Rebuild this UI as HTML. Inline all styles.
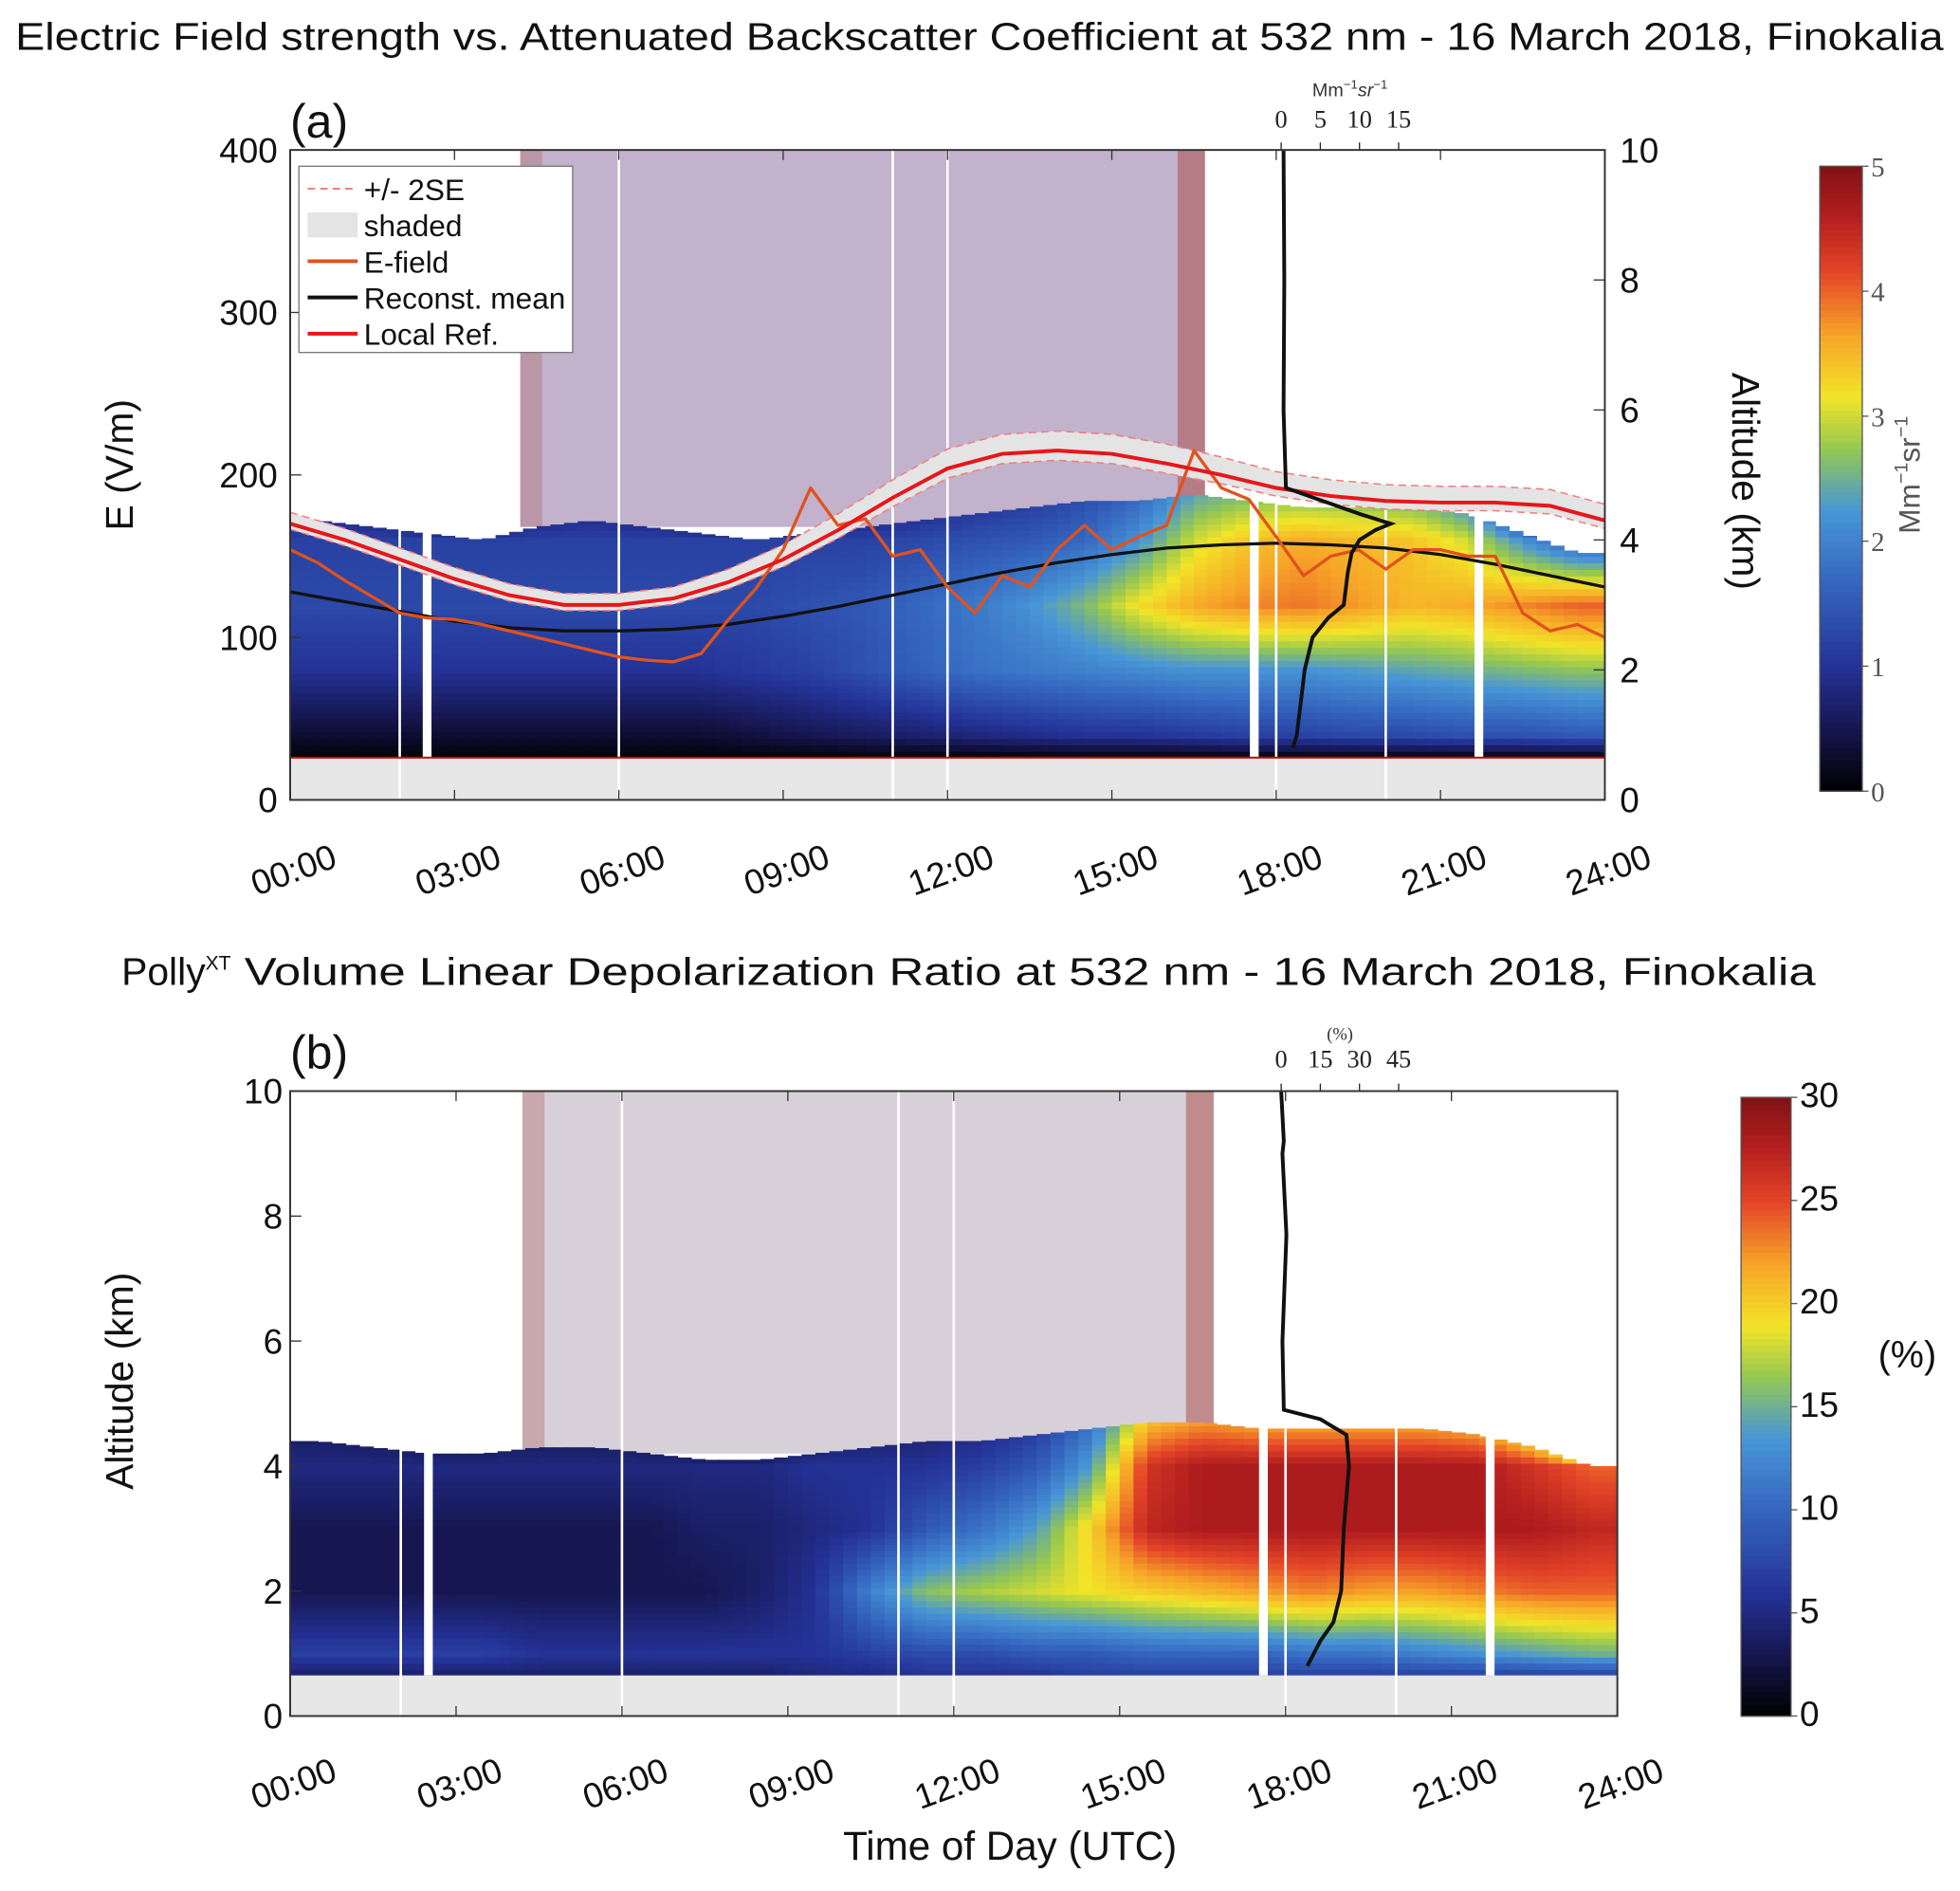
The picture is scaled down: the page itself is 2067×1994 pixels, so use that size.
<!DOCTYPE html>
<html><head><meta charset="utf-8"><style>
html,body{margin:0;padding:0;background:#fff;}
svg{display:block;font-family:"Liberation Sans",sans-serif;}
.tk{font-size:28px;fill:#111;}
.cb{font-family:"Liberation Serif",serif;font-size:22px;fill:#555;}
</style></head><body>
<svg id="s" width="2067" height="1994" viewBox="0 0 1568 1513" xmlns="http://www.w3.org/2000/svg">
<text x="12" y="40" font-size="31" textLength="1543" lengthAdjust="spacingAndGlyphs" fill="#111">Electric Field strength vs. Attenuated Backscatter Coefficient at 532 nm - 16 March 2018, Finokalia</text>
<text x="97" y="788" font-size="31" fill="#111">Polly<tspan font-size="16" dy="-12">XT</tspan><tspan dy="12" textLength="1268" lengthAdjust="spacingAndGlyphs"> Volume Linear Depolarization Ratio at 532 nm - 16 March 2018, Finokalia</tspan></text>
<text x="232" y="110" font-size="38" fill="#111">(a)</text>
<text x="232" y="855" font-size="38" fill="#111">(b)</text>
<text transform="translate(106,372) rotate(-90)" font-size="31" text-anchor="middle" fill="#111">E (V/m)</text>
<text transform="translate(1386,385) rotate(90)" font-size="31" text-anchor="middle" fill="#111">Altitude (km)</text>
<text transform="translate(106,1105) rotate(-90)" font-size="31" text-anchor="middle" fill="#111">Altitude (km)</text>
<text x="808" y="1488" font-size="32" text-anchor="middle" fill="#111">Time of Day (UTC)</text>
<text transform="translate(1536,380) rotate(-90)" font-size="24" text-anchor="middle" fill="#555">Mm<tspan font-size="15" dy="-10">−1</tspan><tspan dy="10">sr</tspan><tspan font-size="15" dy="-10">−1</tspan></text>
<text x="1526" y="1094" font-size="30" text-anchor="middle" fill="#111">(%)</text>
<text x="1080" y="77" font-size="15" text-anchor="middle" fill="#333">Mm<tspan font-size="10" dy="-6">−1</tspan><tspan dy="6" font-style="italic">sr</tspan><tspan font-size="10" dy="-6">−1</tspan></text>
<text x="1072" y="832" font-size="14" text-anchor="middle" fill="#333" font-family="Liberation Serif">(%)</text>
<g id="layer"></g>
</svg>
<script>
// ---- data ----
const hoursA = [0,1,2,3,4,5,6,7,8,9,10,11,12,13,14,15,16,17,18,19,20,21,22,23];
const topA = [4.3,4.2,4.1,4.0,4.2,4.3,4.2,4.1,4.0,4.1,4.2,4.3,4.4,4.5,4.6,4.6,4.7,4.6,4.5,4.5,4.5,4.4,4.1,3.8];
const a07 = [0.05,0.05,0.05,0.05,0.05,0.05,0.05,0.05,0.05,0.05,0.05,0.05,0.05,0.05,0.05,0.05,0.05,0.05,0.05,0.05,0.05,0.05,0.05,0.05];
const a1 = [0.3,0.3,0.3,0.3,0.3,0.3,0.3,0.3,0.4,0.5,0.6,0.7,0.8,0.9,1.0,1.0,1.1,1.2,1.2,1.3,1.3,1.4,1.4,1.5];
const a2 = [1.0,1.0,1.0,1.0,1.0,1.0,1.0,1.0,1.1,1.2,1.4,1.6,1.8,1.9,2.0,2.1,2.2,2.2,2.2,2.3,2.4,2.5,2.6,2.7];
const a3 = [1.3,1.3,1.3,1.3,1.3,1.3,1.3,1.3,1.3,1.4,1.5,1.7,1.9,2.2,2.6,3.2,3.6,3.8,3.9,3.7,3.5,3.6,3.8,4.0];
const a4 = [1.2,1.2,1.2,1.2,1.2,1.2,1.2,1.2,1.2,1.2,1.2,1.3,1.4,1.5,1.7,2.2,3.0,3.4,3.6,3.5,3.4,3.0,2.2,1.5];
const topB = [4.4,4.3,4.2,4.2,4.3,4.3,4.2,4.1,4.1,4.2,4.3,4.4,4.4,4.5,4.6,4.7,4.7,4.6,4.6,4.6,4.6,4.5,4.3,4.0];
const b07 = [4,4,4,4,4,4,4,4,4,5,5,6,6,6,7,7,7,7,7,7,7,7,7,7];
const b1 = [7,7,7,7,6,6,6,6,6,6,7,8,8,9,9,10,10,10,11,11,12,13,14,15];
const b2 = [3,3,3,3,3,3,3,3,4,6,12,16,17,18,19,20,21,22,23,22,22,23,24,24];
const b3 = [3,3,3,3,3,3,3,4,4,5,6,9,11,14,20,27,28,28,28,28,28,28,28,27];
const b4 = [5,5,5,5,5,5,5,5,5,6,6,6,7,9,14,26,28,28,28,28,28,28,26,24];
const eTimes = [0,0.5,1,1.5,2,2.5,3,3.5,4,4.5,5,5.5,6,6.5,7,7.5,8,8.5,9,9.5,10,10.5,11,11.5,12,12.5,13,13.5,14,14.5,15,15.5,16,16.5,17,17.5,18,18.5,19,19.5,20,20.5,21,21.5,22,22.5,23,23.5,24];
const eField = [154,146,135,125,115,112,111,108,104,100,96,92,88,86,85,90,111,130,154,192,169,173,150,154,131,115,138,131,154,169,154,162,169,215,192,185,162,138,150,154,142,154,154,150,150,115,104,108,100];
const refTimes = [0,1,2,3,4,5,6,7,8,9,10,11,12,13,14,15,16,17,18,19,20,21,22,23,24];
const localRef = [170,160,148,136,126,120,120,124,134,148,166,186,204,213,215,213,207,200,192,187,184,183,183,181,172];
const reconMean = [128,122,116,110,106,104,104,105,108,113,119,126,133,140,146,151,155,157,158,157,155,151,145,138,131];
const seWidth = [7,7,7,7,7,7,7,7,8,9,10,11,12,12,12,12,12,11,10,10,10,10,10,10,10];
const profAalt = [10,8,6,4.8,4.4,4.25,4.15,4.0,3.8,3.5,3.0,2.8,2.5,2.0,1.5,1.0,0.8];
const profAval = [0.3,0.4,0.3,0.6,10,14,12,10,9,8.5,8,6,4,3,2.5,2,1.5];
const profBalt = [10,9.2,9.0,7.7,6,4.9,4.75,4.5,4.0,3.0,2.0,1.5,1.2,0.8];
const profBval = [0,1,0.5,2,0.5,1,15,25,26,24,23,20,15,10];
const gapsWide = [2.5,17.6,21.7];
const gapsThin = [2.0,6.0,11.0,12.0,18.0,20.0];
const eTicks = [0,100,200,300,400];
const altTicks = [0,2,4,6,8,10];
const timeTicks = [0,3,6,9,12,15,18,21,24];
const timeLabels = ["00:00","03:00","06:00","09:00","12:00","15:00","18:00","21:00","24:00"];
const cbTicksA = [0,1,2,3,4,5];
const cbTicksB = [0,5,10,15,20,25,30];
const profTicksA = [0,5,10,15];
const profTicksB = [0,15,30,45];

// ---- geometry ----
const NS = "http://www.w3.org/2000/svg";
const L = document.getElementById('layer');
const PA = {x0:232,x1:1284,y0:120,y1:640};
const PB = {x0:232,x1:1294,y0:873,y1:1373};
const xA = t => PA.x0 + t/24*(PA.x1-PA.x0);
const xB = t => PB.x0 + t/24*(PB.x1-PB.x0);
const yAalt = z => PA.y1 - z/10*(PA.y1-PA.y0);
const yBalt = z => PB.y1 - z/10*(PB.y1-PB.y0);
const yE = e => PA.y1 - e/400*(PA.y1-PA.y0);
const pxA = v => 1025 + v*(94/15);
const pxB = v => 1025 + v*(94/45);

function mk(tag, attrs, parent){
  const el = document.createElementNS(NS, tag);
  for (const k in attrs) el.setAttribute(k, attrs[k]);
  (parent||L).appendChild(el);
  return el;
}
const stops = [[0,[0,0,0]],[0.1,[22,22,80]],[0.2,[36,50,150]],[0.33,[52,100,190]],[0.45,[72,150,215]],[0.55,[150,200,80]],[0.63,[242,228,40]],[0.73,[247,165,40]],[0.83,[228,70,40]],[0.92,[180,30,30]],[1,[130,18,20]]];
function cmap(f){
  f = Math.max(0, Math.min(1, f));
  for (let i=1;i<stops.length;i++){
    if (f <= stops[i][0]){
      const a = stops[i-1], b = stops[i], u = (f-a[0])/(b[0]-a[0]);
      const c = a[1].map((v,j)=>Math.round(v+(b[1][j]-v)*u));
      return `rgb(${c[0]},${c[1]},${c[2]})`;
    }
  }
  return 'rgb(130,18,20)';
}
function interpH(arr, t){
  let f = t - 0.5; if (f<0) f=0; if (f>arr.length-1) f=arr.length-1;
  const i = Math.floor(f), j = Math.min(i+1, arr.length-1), u = f-i;
  return arr[i]*(1-u)+arr[j]*u;
}
function interpXY(xs, ys, x){
  for (let i=1;i<xs.length;i++){
    if ((x>=xs[i-1] && x<=xs[i]) || (x<=xs[i-1] && x>=xs[i])){
      const u = (x-xs[i-1])/(xs[i]-xs[i-1]); return ys[i-1]+(ys[i]-ys[i-1])*u;
    }
  }
  return ys[ys.length-1];
}

// ---- panels ----
function panel(P, xf, yf, arrs, vmax, name){
  const g = mk('g', {});
  
  
  const sp = mk('rect', {x:xf(4.2), y:P.y0, width:xf(16.7)-xf(4.2), height:yf(4.2)-P.y0, fill: name==='panel-a' ? '#c2b2cc' : '#d8d0d8'}, g);
  
  
  const sp2 = mk('rect', {x:xf(4.2), y:P.y0, width:xf(4.6)-xf(4.2), height:yf(4.2)-P.y0, fill:'#b06060', opacity:0.35}, g);
  
  
  const st = mk('rect', {x:xf(16.2), y:P.y0, width:xf(16.7)-xf(16.2), height:yf(4.6)-P.y0, fill:'#a8453f', opacity:0.5}, g);
  
  
  const dt = 0.25, dz = 0.1;
  for (let t=0; t<24; t+=dt){
    const tc = t+dt/2;
    const top = interpH(arrs.top, tc);
    const kz = [0.65,1,2,3,4,top];
    const v4 = interpH(arrs.v4, tc);
    const kv = [interpH(arrs.v07,tc), interpH(arrs.v1,tc), interpH(arrs.v2,tc), interpH(arrs.v3,tc), v4, v4*0.8];
    for (let z=0.65; z<top; z+=dz){
      const v = interpXY(kz, kv, Math.min(z+dz/2, top));
      const c = mk('rect', {x:xf(t).toFixed(2), y:yf(Math.min(z+dz,top)).toFixed(2), width:(xf(t+dt)-xf(t)+0.6).toFixed(2), height:(yf(z)-yf(Math.min(z+dz,top))+0.6).toFixed(2), fill:cmap(v/vmax)}, g);
      
      
    }
  }
  const gb = mk('rect', {x:P.x0, y:yf(0.65), width:P.x1-P.x0, height:P.y1-yf(0.65), fill:'#e6e7e6'});
  
  
  gapsWide.forEach(t=>{
    const r = mk('rect', {x:xf(t)-3.5, y:P.y0, width:7, height:yf(0.65)-P.y0, fill:'#fff'});
    
    
  });
  gapsThin.forEach(t=>{
    const r = mk('rect', {x:xf(t)-1, y:P.y0, width:2, height:P.y1-P.y0, fill:'#fff'});
    
    
  });
}
panel(PA, xA, yAalt, {top:topA,v07:a07,v1:a1,v2:a2,v3:a3,v4:a4}, 5, 'panel-a');
panel(PB, xB, yBalt, {top:topB,v07:b07,v1:b1,v2:b2,v3:b3,v4:b4}, 30, 'panel-b');
const rl = mk('line', {x1:PA.x0, x2:PA.x1, y1:yAalt(0.65), y2:yAalt(0.65), stroke:'#c00', 'stroke-width':1.5});



// ---- panel a lines ----
function pathFrom(xs, ys, xf, yf){
  return xs.map((x,i)=>(i?'L':'M')+xf(x).toFixed(1)+','+yf(ys[i]).toFixed(1)).join('');
}
const upper = localRef.map((v,i)=>v+seWidth[i]);
const lower = localRef.map((v,i)=>v-seWidth[i]*0.5);
const band = mk('path', {d: pathFrom(refTimes, upper, xA, yE) + refTimes.slice().reverse().map((t,i)=>'L'+xA(t).toFixed(1)+','+yE(lower[lower.length-1-i]).toFixed(1)).join('')+'Z', fill:'#e4e4e4', stroke:'none'});


[upper, lower].forEach(arr=>{
  const d = mk('path', {d: pathFrom(refTimes, arr, xA, yE), fill:'none', stroke:'#f08080', 'stroke-width':1.2, 'stroke-dasharray':'6 4'});
  
  
});
const recon = mk('path', {d: pathFrom(refTimes, reconMean, xA, yE), fill:'none', stroke:'#111', 'stroke-width':2.5});


const ef = mk('path', {d: pathFrom(eTimes, eField, xA, yE), fill:'none', stroke:'#e0521e', 'stroke-width':2.5, 'stroke-linejoin':'round'});


const lr = mk('path', {d: pathFrom(refTimes, localRef, xA, yE), fill:'none', stroke:'#e8161a', 'stroke-width':3});



// ---- profiles ----
const pa = mk('path', {d: profAalt.map((z,i)=>(i?'L':'M')+pxA(profAval[i]).toFixed(1)+','+yAalt(z).toFixed(1)).join(''), fill:'none', stroke:'#111', 'stroke-width':3});


const pb = mk('path', {d: profBalt.map((z,i)=>(i?'L':'M')+pxB(profBval[i]).toFixed(1)+','+yBalt(z).toFixed(1)).join(''), fill:'none', stroke:'#111', 'stroke-width':3});


profTicksA.forEach(v=>{
  const t = mk('text', {x:pxA(v), y:102, 'font-size':20, 'text-anchor':'middle', 'font-family':'Liberation Serif', fill:'#222'}); t.textContent = v;
  
  
  const l = mk('line', {x1:pxA(v), x2:pxA(v), y1:PA.y0, y2:PA.y0-6, stroke:'#222'});
  
  
});
profTicksB.forEach(v=>{
  const t = mk('text', {x:pxB(v), y:854, 'font-size':20, 'text-anchor':'middle', 'font-family':'Liberation Serif', fill:'#222'}); t.textContent = v;
  
  
  const l = mk('line', {x1:pxB(v), x2:pxB(v), y1:PB.y0, y2:PB.y0-6, stroke:'#222'});
  
  
});

// ---- axes ----
function frame(P, name){
  const r = mk('rect', {x:P.x0, y:P.y0, width:P.x1-P.x0, height:P.y1-P.y0, fill:'none', stroke:'#333', 'stroke-width':1.5});
  
  
}
frame(PA, 'panel-a'); frame(PB, 'panel-b');
eTicks.forEach(v=>{
  const t = mk('text', {x:PA.x0-10, y:yE(v)+10, class:'tk', 'text-anchor':'end'}); t.textContent = v;
  
  
  const l = mk('line', {x1:PA.x0, x2:PA.x0+9, y1:yE(v), y2:yE(v), stroke:'#333'});
  
  
});
altTicks.forEach(v=>{
  const t = mk('text', {x:PA.x1+12, y:yAalt(v)+10, class:'tk'}); t.textContent = v;
  
  
  const l = mk('line', {x1:PA.x1, x2:PA.x1-9, y1:yAalt(v), y2:yAalt(v), stroke:'#333'});
  
  
  const t2 = mk('text', {x:PB.x0-6, y:yBalt(v)+10, class:'tk', 'text-anchor':'end'}); t2.textContent = v;
  
  
  const l2 = mk('line', {x1:PB.x0, x2:PB.x0+9, y1:yBalt(v), y2:yBalt(v), stroke:'#333'});
  
  
});
timeTicks.forEach((h,i)=>{
  [[xA, PA, 705],[xB, PB, 1436]].forEach(([xf,P,yl])=>{
    const l = mk('line', {x1:xf(h), x2:xf(h), y1:P.y1, y2:P.y1-8, stroke:'#333'});
    
    
    const l2 = mk('line', {x1:xf(h), x2:xf(h), y1:P.y0, y2:P.y0+8, stroke:'#333'});
    
    
    const t = mk('text', {transform:`translate(${xf(h)+6},${yl}) rotate(-20)`, class:'tk', 'text-anchor':'middle'}); t.textContent = timeLabels[i];
    
    
  });
});

// ---- colorbars ----
function colorbar(x, y0, y1, w, ticks, vmax, name, cls, lx){
  const n = 100, h = (y1-y0)/n;
  for (let i=0;i<n;i++){
    const r = mk('rect', {x:x, y:(y1-(i+1)*h).toFixed(2), width:w, height:(h+0.6).toFixed(2), fill:cmap((i+0.5)/n)});
    
    
  }
  const fr = mk('rect', {x:x, y:y0, width:w, height:y1-y0, fill:'none', stroke:'#555', 'stroke-width':1});
  
  
  ticks.forEach(v=>{
    const yy = y1 - v/vmax*(y1-y0);
    const t = mk('text', {x:lx, y:yy+8, class:cls}); t.textContent = v;
    
    
    const l = mk('line', {x1:x+w, x2:x+w+5, y1:yy, y2:yy, stroke:'#555'});
    
    
  });
}
colorbar(1456, 133, 633, 34, cbTicksA, 5, 'colorbar-a', 'cb', 1497);
colorbar(1393, 878, 1373, 40, cbTicksB, 30, 'colorbar-b', 'tk', 1440);

// ---- legend ----
const lg = mk('g', {});


const lb = mk('rect', {x:239, y:133, width:219, height:149, fill:'#fff', stroke:'#777', 'stroke-width':1}, lg);


const entries = [["+/- 2SE","dash"],["shaded","fill"],["E-field","#e0521e"],["Reconst. mean","#111"],["Local Ref.","#e8161a"]];
entries.forEach((e,i)=>{
  const y = 151 + i*29;
  const eg = mk('g', {}, lg);
  
  
  if (e[1]==='dash') mk('line', {x1:246, x2:286, y1:y, y2:y, stroke:'#f08080', 'stroke-width':1.5, 'stroke-dasharray':'6 4'}, eg);
  else if (e[1]==='fill') mk('rect', {x:246, y:y-10, width:40, height:20, fill:'#e4e4e4'}, eg);
  else mk('line', {x1:246, x2:286, y1:y, y2:y, stroke:e[1], 'stroke-width':3}, eg);
  const t = mk('text', {x:291, y:y+9, 'font-size':24, fill:'#111'}, eg); t.textContent = e[0];
});
</script>
</body></html>
